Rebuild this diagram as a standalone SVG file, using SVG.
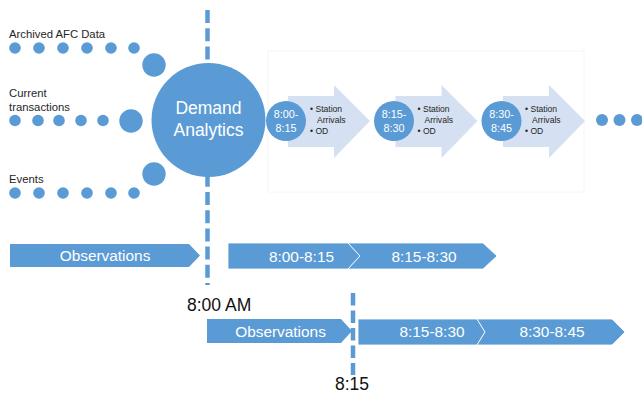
<svg xmlns="http://www.w3.org/2000/svg" width="642" height="393" viewBox="0 0 642 393">
<style>
.blue{fill:#5b9bd5}
.light{fill:#d5e1f2}
.dash{stroke:#5b9bd5;stroke-width:4.5;fill:none}
.lbl{font-family:"Liberation Sans",Arial,sans-serif;font-size:11.3px;fill:#262626}
.w{font-family:"Liberation Sans",Arial,sans-serif;fill:#ffffff;text-anchor:middle}
.bul{font-family:"Liberation Sans",Arial,sans-serif;font-size:8.6px;fill:#262626}
.time{font-family:"Liberation Sans",Arial,sans-serif;font-size:17.5px;fill:#111111}
.chev{fill:#5b9bd5;stroke:#ffffff;stroke-width:0.8}
</style>
<defs>
<g id="arrowShape">
<path class="light" d="M0,-25 H46 V-36 L82,0 L46,37 V26 H0 Z"/>
</g>
</defs>
<rect width="642" height="393" fill="#ffffff"/>
<rect x="268" y="51" width="316" height="141" fill="none" stroke="#f6f6f6" stroke-width="1"/>

<g id="timeline-lines">
<line class="dash" x1="207.5" y1="10" x2="207.5" y2="285" stroke-dasharray="13 5.2"/>
</g>

<g id="connectors">
<g class="blue">
<circle cx="15" cy="48" r="5.8"/><circle cx="39" cy="48" r="5.8"/><circle cx="63" cy="48" r="5.8"/><circle cx="87" cy="48" r="5.8"/><circle cx="111" cy="48" r="5.8"/><circle cx="134" cy="48" r="5.8"/>
<circle cx="154" cy="65" r="11.7"/>
<circle cx="15" cy="120.5" r="5.8"/><circle cx="38" cy="120.5" r="5.8"/><circle cx="59" cy="120.5" r="5.8"/><circle cx="81" cy="120.5" r="5.8"/><circle cx="103" cy="120.5" r="5.8"/>
<circle cx="131" cy="121" r="11.7"/>
<circle cx="15" cy="193" r="5.8"/><circle cx="39" cy="193" r="5.8"/><circle cx="63" cy="193" r="5.8"/><circle cx="87" cy="193" r="5.8"/><circle cx="111" cy="193" r="5.8"/><circle cx="134" cy="193" r="5.8"/>
<circle cx="154" cy="174" r="11.7"/>
<circle cx="602" cy="120" r="6"/><circle cx="619.5" cy="120" r="6"/><circle cx="637" cy="120" r="6"/>
</g>
</g>

<g id="input-labels">
<text class="lbl" x="9" y="38">Archived AFC Data</text>
<text class="lbl" x="9" y="97">Current</text>
<text class="lbl" x="9" y="111">transactions</text>
<text class="lbl" x="9" y="183">Events</text>
</g>

<g id="demand-analytics">
<circle class="blue" cx="208.5" cy="120" r="57"/>
<text class="w" x="208.5" y="114" font-size="17.5">Demand</text>
<text class="w" x="208.5" y="136" font-size="17.5">Analytics</text>
</g>

<g id="period-1">
<use href="#arrowShape" x="288" y="121"/>
<circle class="blue" cx="286" cy="121" r="20"/>
<text class="w" x="286" y="117.5" font-size="10.8">8:00-</text>
<text class="w" x="286" y="132" font-size="10.8">8:15</text>
<text class="bul" x="310" y="112">• Station</text>
<text class="bul" x="317" y="123">Arrivals</text>
<text class="bul" x="310" y="134">• OD</text>
</g>

<g id="period-2">
<use href="#arrowShape" x="395.5" y="121"/>
<circle class="blue" cx="394" cy="121" r="20"/>
<text class="w" x="394" y="117.5" font-size="10.8">8:15-</text>
<text class="w" x="394" y="132" font-size="10.8">8:30</text>
<text class="bul" x="417.5" y="112">• Station</text>
<text class="bul" x="424.5" y="123">Arrivals</text>
<text class="bul" x="417.5" y="134">• OD</text>
</g>

<g id="period-3">
<use href="#arrowShape" x="503" y="121"/>
<circle class="blue" cx="501.5" cy="121" r="20"/>
<text class="w" x="501.5" y="117.5" font-size="10.8">8:30-</text>
<text class="w" x="501.5" y="132" font-size="10.8">8:45</text>
<text class="bul" x="525" y="112">• Station</text>
<text class="bul" x="532" y="123">Arrivals</text>
<text class="bul" x="525" y="134">• OD</text>
</g>

<g id="row1-observations">
<path class="blue" d="M10,244 H189 L200,255.5 L189,267 H10 Z"/>
<text class="w" x="105" y="261" font-size="15.4">Observations</text>
</g>
<g id="row1-0800-0815">
<path class="chev" d="M228,243 H348 L360,256 L348,269 H228 Z"/>
<text class="w" x="301.5" y="262" font-size="15.4">8:00-8:15</text>
</g>
<g id="row1-0815-0830">
<path class="chev" d="M348,243 H483 L497,256 L483,269 H348 L360,256 Z"/>
<text class="w" x="424" y="262" font-size="15.4">8:15-8:30</text>
</g>

<g id="label-0800">
<text class="time" x="187" y="311">8:00 AM</text>
</g>

<g id="row2-observations">
<path class="blue" d="M207,319 H341 L352,331 L341,343 H207 Z"/>
<text class="w" x="280.5" y="337" font-size="15.4">Observations</text>
</g>
<g id="row2-0815-0830">
<path class="chev" d="M358,319 H477 L485,332 L477,345 H358 Z"/>
<text class="w" x="432" y="337" font-size="15.4">8:15-8:30</text>
</g>
<g id="row2-0830-0845">
<path class="chev" d="M477,319 H612 L625,332 L612,345 H477 L485,332 Z"/>
<text class="w" x="552" y="337" font-size="15.4">8:30-8:45</text>
</g>

<g id="timeline-0815">
<line class="dash" x1="353" y1="293" x2="353" y2="375" stroke-dasharray="12.5 5"/>
<text class="time" x="352" y="390" text-anchor="middle">8:15</text>
</g>
</svg>
